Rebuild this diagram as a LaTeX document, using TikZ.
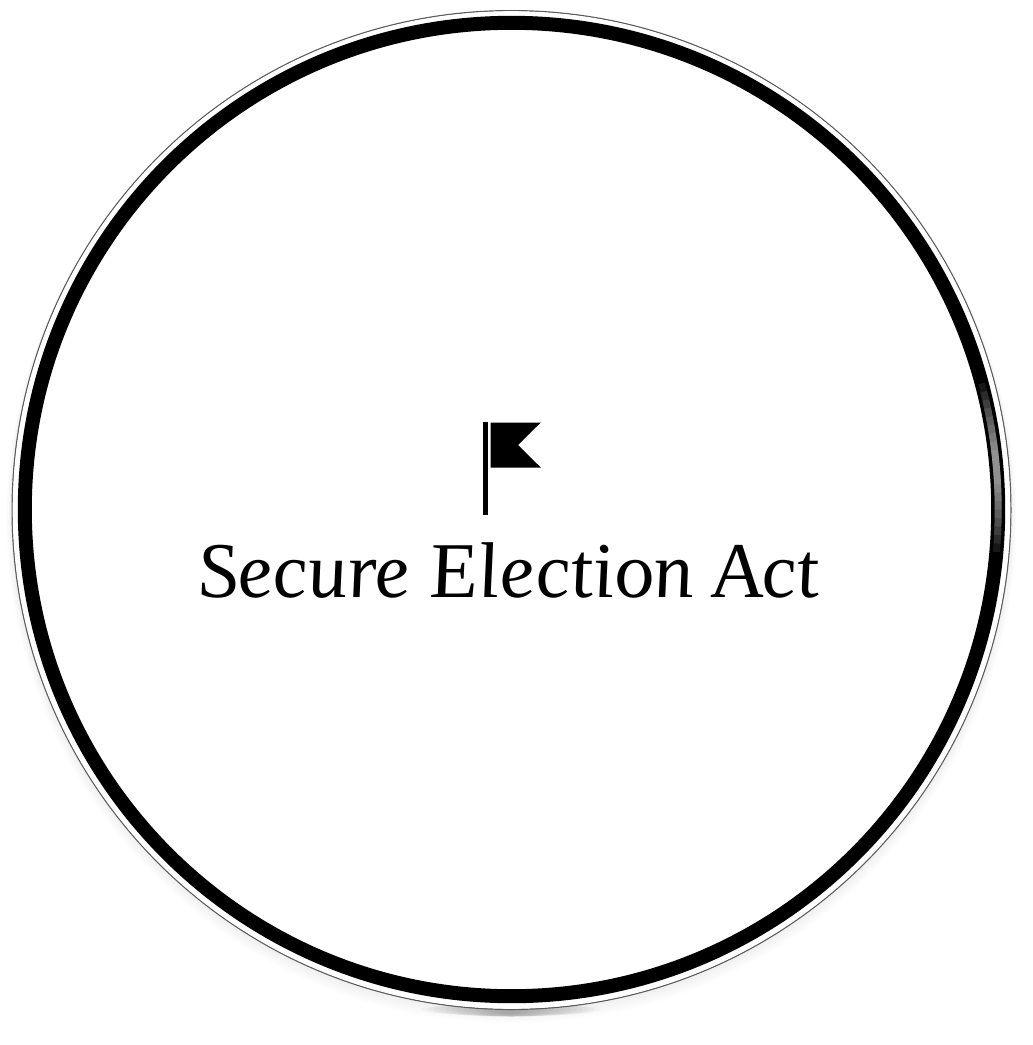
\documentclass[tikz,border=0pt]{standalone}
\usepackage{fontspec}
\setmainfont{Liberation Serif}
\newfontfamily\titlefont[ItalicFont=*,ItalicFeatures={},UprightFont=* Italic,RawFeature={slant=-0.13}]{Liberation Serif}
\usetikzlibrary{calc}
\tikzset{
  ringline/.style={line width=14pt,draw=black},
  rimline/.style={line width=1.4pt,draw=black!65},
  flagshape/.style={fill=black,draw=none},
  softshadow/.style={fill=black,draw=none,opacity=0.022},
  sheen/.style={draw=white,line width=#1,opacity=0.09}
}
\begin{document}
\begin{tikzpicture}[x=1pt,y=-1pt]
\useasboundingbox (0,0) rectangle (1033,1045);
\fill[white] (0,0) rectangle (1033,1045);
% soft shadow beneath the disc
\foreach \r in {0,1,...,7}{
  \fill[black,opacity=0.006] (511.5,511+\r) circle ({499.5+0.8*\r});
}
\foreach \r/\ry in {90/6.5,84/6.5,78/7,72/7,66/7,60/7,54/7,48/7,42/7,36/7,30/6.5,24/6,18/5.5,12/5}{
  \fill[softshadow] (511,1009.5) ellipse ({\r} and {\ry});
}
% disc, rim and ring
\fill[white] (511.5,510) circle (499.5);
\draw[rimline] (511.5,510) circle (499.3);
\fill[white] (511.5,510) circle (498.8);
\draw[ringline] (511.5,509.5) circle (486.7);
% sheen on the ring at the right
\foreach \a/\b in {-15/5,-14/4,-13/3,-12/2,-11/1,-10/0,-9/-1,-8/-2,-7/-3}{
  \draw[sheen=7pt] ($(511.5,509.5)+(\a:486.7)$) arc[start angle=\a,end angle=\b,radius=486.7];
}
% flag
\fill[flagshape] (482.8,422.3) rectangle (488,515);
\fill[flagshape] (490.7,422.5) -- (540.8,422.5) -- (518,445) -- (540.8,467.5) -- (490.7,467.5) -- cycle;
% title
\node[inner sep=0pt,anchor=base] (title) at (511,597)
  {\fontsize{79}{79}\selectfont\titlefont Secure Election Act};
\end{tikzpicture}
\end{document}
